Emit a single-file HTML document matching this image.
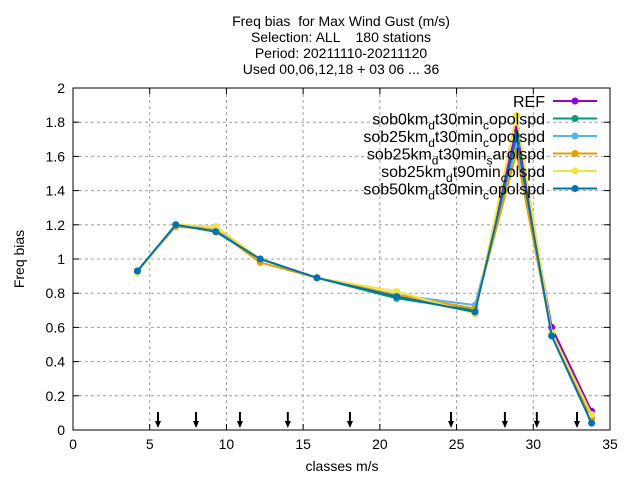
<!DOCTYPE html>
<html><head><meta charset="utf-8"><style>
body{margin:0;background:#fff}
svg{display:block;font-family:"Liberation Sans",sans-serif}
text{white-space:pre}
</style></head><body>
<svg id="chart" width="640" height="480">
<g font-size="14" text-anchor="middle" fill="#000">
<text x="341" y="26" xml:space="preserve">Freq bias  for Max Wind Gust (m/s)</text>
<text x="341" y="42" xml:space="preserve">Selection: ALL    180 stations</text>
<text x="341" y="58">Period: 20211110-20211120</text>
<text x="341" y="74">Used 00,06,12,18 + 03 06 ... 36</text>
</g>
<g id="grid"></g>
<g id="axes"></g>
<g id="arrows"></g>
<g id="series"></g>
<g id="legend"></g>
<text x="342" y="471" font-size="14" text-anchor="middle">classes m/s</text>
<text x="24" y="259" font-size="14" text-anchor="middle" transform="rotate(-90 24 259)">Freq bias</text>
</svg>
<script>
const xs = [4.2, 6.7, 9.3, 12.2, 15.9, 21.1, 26.2, 28.9, 31.2, 33.8];
const ref = [0.93, 1.20, 1.17, 1.00, 0.89, 0.78, 0.69, 1.76, 0.60, 0.11];
const s0 = [0.93, 1.20, 1.16, 1.00, 0.89, 0.77, 0.70, 1.70, 0.56, 0.07];
const s25 = [0.93, 1.20, 1.17, 1.00, 0.89, 0.79, 0.73, 1.66, 0.56, 0.07];
const s25s = [0.93, 1.19, 1.17, 0.98, 0.89, 0.79, 0.71, 1.62, 0.56, 0.07];
const s25t90 = [0.92, 1.20, 1.19, 1.00, 0.89, 0.81, 0.68, 1.84, 0.57, 0.09];
const s50 = [0.93, 1.20, 1.16, 1.00, 0.89, 0.78, 0.69, 1.72, 0.55, 0.04];
const names = ["REF","sob0km_d t30min_c opolspd","sob25km_d t30min_c opolspd","sob25km_d t30min_s arolspd","sob25km_d t90min_c olspd","sob50km_d t30min_c opolspd"];
const arrowX = [5.54, 8.02, 10.88, 14.0, 18.05, 24.64, 28.15, 30.23, 32.85];
const xTicks = [0,5,10,15,20,25,30,35];
const yTicks = [0,0.2,0.4,0.6,0.8,1,1.2,1.4,1.6,1.8,2];
const yTickLabels = ["0","0.2","0.4","0.6","0.8","1","1.2","1.4","1.6","1.8","2"];
const colors = ["#9400d3","#009e73","#56b4e9","#e69f00","#f0e442","#0072b2"];
const allSeries = [ref,s0,s25,s25s,s25t90,s50];

const L=73,R=610,T=88,B=430;
const X=v=>L+(v/35)*(R-L);
const Y=v=>B-(v/2)*(B-T);
const NS="http://www.w3.org/2000/svg";
function mk(tag,attrs,parent){const e=document.createElementNS(NS,tag);for(const k in attrs)e.setAttribute(k,attrs[k]);parent.appendChild(e);return e;}
const grid=document.getElementById('grid'),axes=document.getElementById('axes');
xTicks.forEach(t=>{
  if(t>0&&t<35){const l=mk('line',{x1:X(t),x2:X(t),y1:T,y2:B,stroke:'#a0a0a0','stroke-dasharray':'3,3'},grid);
  
  }
  mk('line',{x1:X(t),x2:X(t),y1:B,y2:B-6,stroke:'#000'},axes);
  mk('line',{x1:X(t),x2:X(t),y1:T,y2:T+6,stroke:'#000'},axes);
  const tx=mk('text',{x:X(t),y:B+19,'font-size':14,'text-anchor':'middle'},axes);tx.textContent=t;
  
  
});
yTicks.forEach((t,i)=>{
  if(t>0&&t<2){const l=mk('line',{x1:L,x2:R,y1:Y(t),y2:Y(t),stroke:'#a0a0a0','stroke-dasharray':'3,3'},grid);
  
  }
  mk('line',{x1:L,x2:L+6,y1:Y(t),y2:Y(t),stroke:'#000'},axes);
  mk('line',{x1:R,x2:R-6,y1:Y(t),y2:Y(t),stroke:'#000'},axes);
  const tx=mk('text',{x:L-8,y:Y(t)+5,'font-size':14,'text-anchor':'end'},axes);tx.textContent=yTickLabels[i];
  
  
});
mk('rect',{x:L,y:T,width:R-L,height:B-T,fill:'none',stroke:'#000'},axes);
const ar=document.getElementById('arrows');
arrowX.forEach(v=>{
  const g=mk('g',{},ar);
  
  
  mk('line',{x1:X(v),x2:X(v),y1:412,y2:424,stroke:'#000','stroke-width':2},g);
  mk('path',{d:`M${X(v)-3},421 L${X(v)+3},421 L${X(v)},428 Z`,fill:'#000'},g);
});
const sg=document.getElementById('series');
allSeries.forEach((s,i)=>{
  const g=mk('g',{},sg);
  
  
  mk('polyline',{points:s.map((v,j)=>X(xs[j])+','+Y(v)).join(' '),fill:'none',stroke:colors[i],'stroke-width':2},g);
  s.forEach((v,j)=>{const c=mk('circle',{cx:X(xs[j]),cy:Y(v),r:3.5,fill:colors[i]},g);
    
    });
});
const lg=document.getElementById('legend');
names.forEach((n,i)=>{
  const y=101+i*17.5;
  const g=mk('g',{},lg);
  
  
  const t=mk('text',{x:545,y:y+6,'font-size':16,'text-anchor':'end'},g);
  const p=n.split(' ');
  let pend=0;
  p.forEach(part=>{
    const m=part.match(/^(.*)_(.)$/);
    const main=m?m[1]:part;
    const a=mk('tspan',{dy:pend},t);a.textContent=main;pend=0;
    if(m){const b=mk('tspan',{dy:5,'font-size':12},t);b.textContent=m[2];pend=-5;}
  });
  mk('line',{x1:553,x2:597,y1:y,y2:y,stroke:colors[i],'stroke-width':2},g);
  mk('circle',{cx:575,cy:y,r:3.5,fill:colors[i]},g);
});
</script>
</body></html>
